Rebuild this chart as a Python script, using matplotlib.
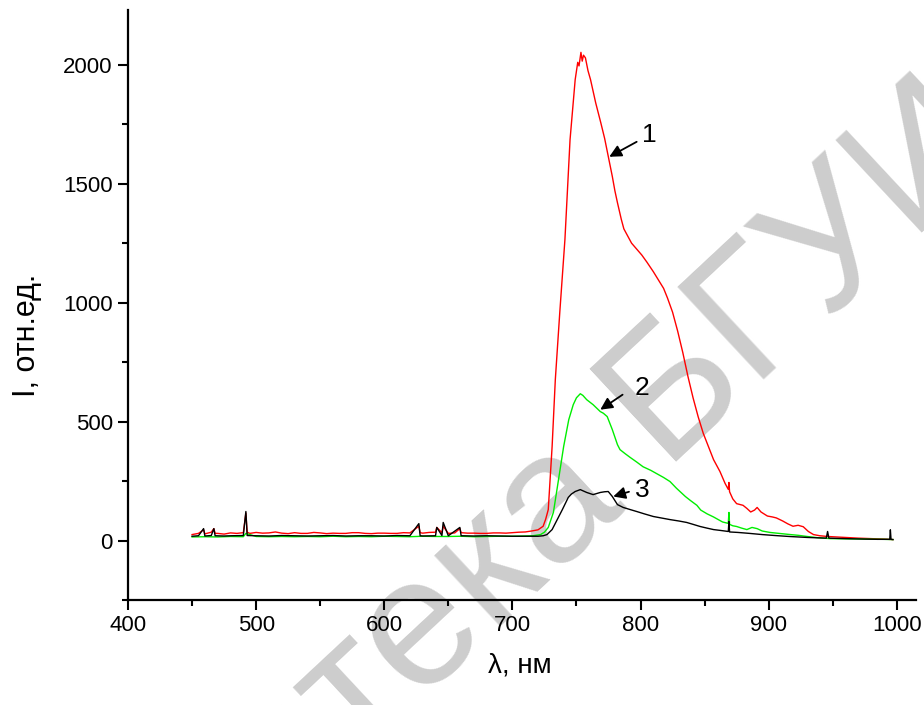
import matplotlib
matplotlib.use("Agg")
import matplotlib.pyplot as plt
from matplotlib.ticker import MultipleLocator

plt.rcParams['font.family'] = ['Liberation Sans', 'DejaVu Sans']

# ---- data ----
wl_red = [450, 455, 459, 460, 465, 467, 468, 470, 475, 480, 485, 490, 492, 493, 495, 500, 505, 510, 515,
          520, 525, 530, 535, 540, 545, 550, 555, 560, 565, 570, 575, 580, 585, 590, 595, 600, 605,
          610, 615, 620, 627, 628, 630, 635, 640, 641, 645, 646, 650, 655, 659, 660, 665, 670, 675,
          680, 685, 690, 695, 700, 705, 710, 715, 720, 724, 726, 728, 731, 733.5, 737, 741, 745,
          749, 751, 752, 753.5, 754.5, 755.5, 757, 759, 761, 765, 769, 772, 775, 778, 780, 782, 785, 787, 790, 793, 797, 801,
          805, 810, 814, 818, 821, 825, 829, 833, 837, 841, 845, 849, 853, 857, 862, 866, 868.5,
          869, 869.5, 872, 875, 880, 883, 886, 889, 891, 894, 899, 903, 906, 911, 915, 919, 923,
          927, 931, 935, 940, 946, 953, 961, 970, 980, 990, 997]
i_red = [25, 30, 45, 28, 35, 50, 30, 30, 27, 32, 30, 33, 115, 35, 30, 34, 31, 32, 36,
         31, 29, 33, 30, 30, 34, 32, 29, 31, 30, 30, 33, 33, 30, 29, 31, 31, 30,
         30, 33, 32, 60, 33, 31, 34, 35, 55, 33, 60, 30, 32, 50, 33, 31, 31, 30,
         30, 32, 32, 31, 33, 35, 36, 40, 45, 60, 90, 130, 395, 676, 960, 1265, 1685,
         1937, 2010, 1995, 2052, 2015, 2040, 2029, 1975, 1937, 1840, 1756, 1690, 1610, 1530, 1470, 1420, 1350, 1310, 1280, 1250, 1225, 1200,
         1170, 1130, 1095, 1060, 1020, 960, 880, 790, 690, 600, 520, 450, 395, 340, 290, 240, 215,
         244, 205, 175, 155, 148, 135, 120, 128, 139, 120, 103, 99, 95, 82, 70, 60, 64,
         58, 38, 25, 20, 17, 15, 13, 10, 8, 6, 4]

wl_green = [450, 460, 470, 480, 490, 492, 500, 510, 520, 530, 540, 550, 560, 570, 580, 590, 600,
            610, 620, 630, 640, 650, 660, 670, 680, 690, 700, 710, 716, 722, 725, 728, 732, 736,
            740, 744, 747.5, 750, 753, 755, 758, 763, 768.6, 771, 774, 778, 782, 784, 788, 792,
            797, 802, 808, 813, 818, 823, 828, 831, 835, 839, 844, 847, 852, 857, 861, 864, 868.5,
            869, 869.5, 872, 875, 879, 883, 887, 891, 895, 901, 908, 917, 923, 930, 938, 948,
            960, 975, 990, 997]
i_green = [15, 16, 15, 17, 16, 30, 17, 16, 17, 16, 17, 16, 18, 16, 17, 16, 18,
           17, 16, 18, 17, 17, 18, 16, 17, 18, 18, 19, 20, 25, 35, 55, 118, 256,
           395, 508, 571, 600, 617, 610, 592, 571, 542, 535, 521, 466, 403, 382, 365, 349,
           330, 310, 295, 280, 265, 248, 220, 205, 185, 168, 148, 128, 112, 99, 87, 78, 72,
           118, 68, 62, 59, 52, 46, 55, 50, 40, 34, 30, 25, 22, 17, 12, 8,
           7, 6, 5, 4]

wl_black = [450, 455, 459, 460, 465, 467, 468, 475, 480, 490, 492, 493, 500, 510, 520, 530, 540,
            550, 560, 570, 580, 590, 600, 610, 620, 627, 628, 630, 640, 641, 645, 646, 650, 659,
            660, 670, 680, 690, 700, 710, 720, 724, 727, 731, 735, 739, 743.6, 746, 749, 753,
            758, 763, 768.6, 772, 774.8, 778, 782, 786.5, 792, 797, 803, 810, 816, 823, 830, 836,
            841, 846.5, 852, 857, 863, 868.5, 869, 869.5, 876, 885, 895, 905, 916, 930, 945, 946,
            947, 960, 975, 985, 994.5, 995, 995.5, 997]
i_black = [18, 20, 50, 19, 21, 50, 20, 19, 20, 21, 122, 21, 20, 19, 21, 20, 19,
           20, 21, 19, 20, 20, 19, 21, 20, 71, 20, 19, 20, 55, 21, 76, 20, 55,
           20, 19, 20, 19, 18, 18, 18, 20, 25, 46, 88, 130, 181, 195, 206, 214,
           202, 193, 202, 205, 206, 185, 151, 139, 130, 122, 112, 101, 95, 88, 82, 76,
           68, 59, 52, 46, 42, 38, 80, 36, 34, 30, 25, 21, 17, 13, 10, 38,
           10, 8, 6, 5, 5, 45, 5, 4]

xticks = [400, 500, 600, 700, 800, 900, 1000]
yticks = [0, 500, 1000, 1500, 2000]

labels = ["1", "2", "3"]
label_pos = [(807, 1706), (801, 643), (801, 214)]
arrow_tail = [(797, 1676), (786, 613), (791, 205)]
arrow_head = [(775.6, 1613), (768.6, 550), (778.7, 185)]

watermark_left = "Библиотека"
watermark_right = "БГУИР"

# ---- figure ----
W, H = 924, 705
fig = plt.figure(figsize=(W / 100, H / 100), dpi=100)
ax = fig.add_axes([128/W, 105/H, (916-128)/W, (695-105)/H])

# watermark (behind the plot)
wm = dict(fontsize=132, color='#cdcdcd', rotation=43, rotation_mode='anchor',
          va='baseline', zorder=0)
fig.text(662/W, 1 - 462/H, watermark_right, ha='left', **wm)
fig.text(624/W, 1 - 497/H, watermark_left, ha='right', **wm)
ax.set_facecolor('none')
ax.set_zorder(2)

ax.plot(wl_red, i_red, color='#ff0000', lw=1.0)
ax.plot(wl_green, i_green, color='#00ee00', lw=1.0)
ax.plot(wl_black, i_black, color='#000000', lw=1.0)

for lab, pos, tail, head in zip(labels, label_pos, arrow_tail, arrow_head):
    ax.annotate("", xy=head, xytext=tail,
                arrowprops=dict(arrowstyle='-|>', color='k', lw=1.3, mutation_scale=18,
                                shrinkA=0, shrinkB=0))
    ax.text(pos[0], pos[1], lab, fontsize=19, ha='center', va='center')

ax.set_xlim(400, 1015)
ax.set_ylim(-250, 2230)
ax.set_xticks(xticks)
ax.set_yticks(yticks)
ax.xaxis.set_minor_locator(MultipleLocator(50))
ax.yaxis.set_minor_locator(MultipleLocator(250))
for s in ['top', 'right']:
    ax.spines[s].set_visible(False)
for s in ['left', 'bottom']:
    ax.spines[s].set_linewidth(1.6)
ax.tick_params(which='major', direction='out', length=7, width=1.5, labelsize=16, pad=4)
ax.tick_params(which='minor', direction='out', length=4, width=1.5)

ax.set_xlabel("λ, нм", fontsize=20)
ax.xaxis.set_label_coords((520-128)/(916-128), -(652-600)/590)
ax.set_ylabel("I, отн.ед.", fontsize=22)
ax.yaxis.set_label_coords(-(128-42)/(916-128), (600-335)/590)

fig.savefig("out.png", dpi=100)
